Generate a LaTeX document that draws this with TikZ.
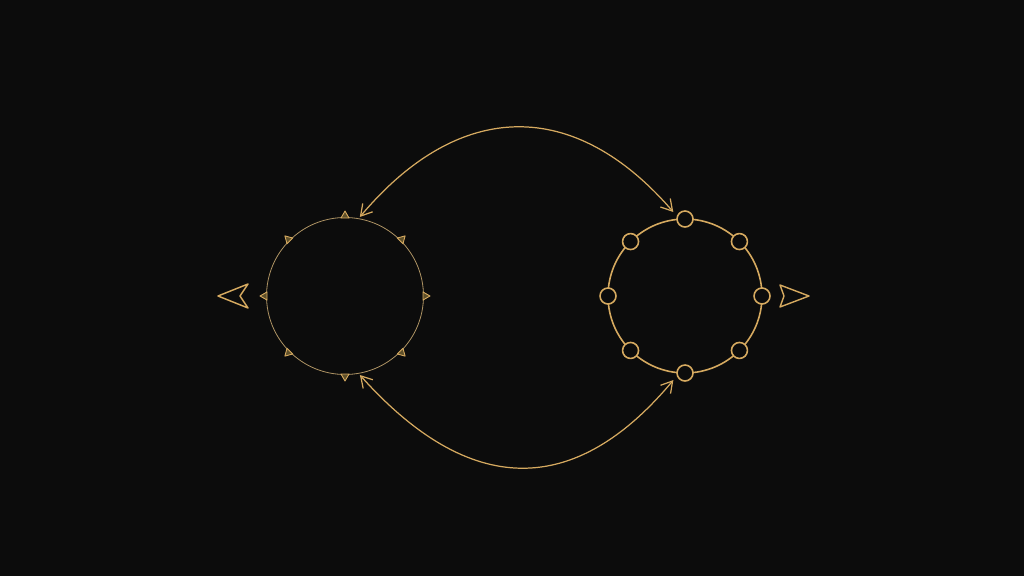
\documentclass[tikz,border=0pt]{standalone}
\usepackage{tikz}
\usetikzlibrary{calc,arrows.meta,backgrounds,positioning}
\definecolor{gold}{RGB}{214,170,96}
\definecolor{dimgold}{RGB}{175,148,100}
\definecolor{ink}{RGB}{12,12,12}
\definecolor{oliv}{RGB}{95,80,42}
\begin{document}
\begin{tikzpicture}[x=0.02cm, y=0.02cm, line cap=round, line join=round, >={Straight Barb[length=2.2mm,width=2.6mm]},
  ring/.style={circle, draw=dimgold, line width=0.45pt, minimum size=3.14cm, inner sep=0pt},
  beadring/.style={circle, draw=gold, line width=0.9pt, minimum size=3.08cm, inner sep=0pt},
  bead/.style={circle, draw=gold, fill=ink, line width=0.9pt, minimum size=0.32cm, inner sep=0pt},
  spike/.style={draw=gold, fill=oliv, line width=0.5pt},
  link/.style={draw=gold, line width=0.7pt, <->},
  bigtip/.style={draw=gold, fill=ink, line width=0.8pt}]
\fill[ink] (0,0) rectangle (1024,576);
\coordinate (l) at (345,280); \coordinate (r) at (685,280);
\node[ring] (L) at (l) {}; \node[beadring] (R) at (r) {};
\foreach \a in {0,45,...,315} \draw[spike, shift={(l)}, rotate=\a] (78,-4) -- (85,0) -- (78,4) -- cycle;
\foreach \a in {0,45,...,315} \node[bead] (d\a) at ($(r)+(\a:77)$) {};
% outer tips
\draw[bigtip] (218,280) -- (248,292) -- (240,280) -- (248,268) -- cycle;
\draw[bigtip] (809,280) -- (780,291) -- (784,280) -- (780,269) -- cycle;
% arcs
\draw[link, shorten <=1pt, shorten >=3pt] (L.80) .. controls (460,478) and (575,478) .. (d90.160);
\draw[link, shorten <=1pt, shorten >=3pt] (L.-80) .. controls (470,78) and (575,78) .. (d270.200);
\end{tikzpicture}
\end{document}
